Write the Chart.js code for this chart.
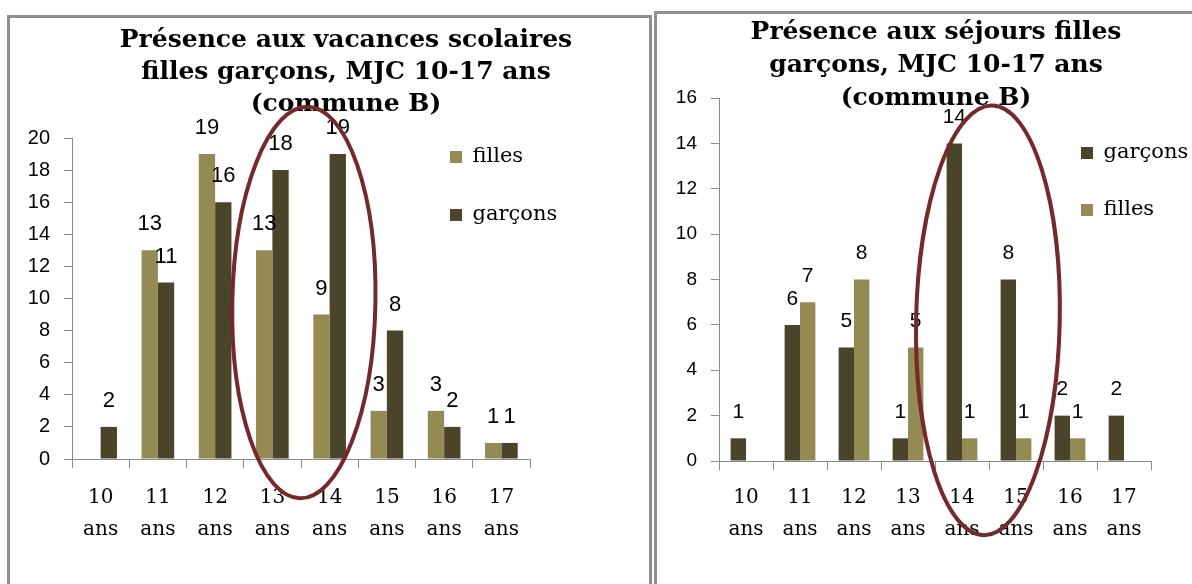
<!DOCTYPE html>
<html lang="fr">
<head>
<meta charset="utf-8">
<script src="https://cdn.jsdelivr.net/npm/chart.js@4.4.1/dist/chart.umd.min.js"></script>
<style>
  body { margin: 0; background: #fff; overflow: hidden; width: 1192px; height: 584px; position: relative; }
  .box { position: absolute; border: 3px solid #8f8f8f; background: #fff; }
  #boxA { left: 7px; top: 15px; width: 639px; height: 600px; }
  #boxB { left: 654px; top: 11px; width: 560px; height: 600px; }
  canvas { position: absolute; left: 0; top: 0; }
</style>
</head>
<body>
<div class="box" id="boxA"><canvas id="vacances" width="639" height="566"></canvas></div>
<div class="box" id="boxB"><canvas id="sejours" width="535" height="570"></canvas></div>
<script>
// ages on the x axis, two lines each
const ages = [['10', 'ans'], ['11', 'ans'], ['12', 'ans'], ['13', 'ans'], ['14', 'ans'], ['15', 'ans'], ['16', 'ans'], ['17', 'ans']]

// vacances scolaires
const vacFilles = [null, 13, 19, 13, 9, 3, 3, 1]
const vacGarcons = [2, 11, 16, 18, 19, 8, 2, 1]
const vacMax = 20

// séjours
const sejGarcons = [1, 6, 5, 1, 14, 8, 2, 2]
const sejFilles = [null, 7, 8, 5, 1, 1, 1, null]
const sejMax = 16

const FILLES = '#948A54'
const GARCONS = '#4A452A'
const AXIS = '#8a8a8a'

Chart.defaults.font.family = '"Liberation Sans", Arial, sans-serif'
Chart.defaults.color = '#000'

// numbers above the bars
const valueLabels = {
  id: 'valueLabels',
  afterDatasetsDraw (chart, args, opts) {
    const ctx = chart.ctx
    ctx.save()
    ctx.font = opts.size + 'px "Liberation Sans", Arial, sans-serif'
    ctx.fillStyle = '#000'
    ctx.textAlign = 'center'
    ctx.textBaseline = 'middle'
    chart.data.datasets.forEach((ds, i) => {
      chart.getDatasetMeta(i).data.forEach((bar, j) => {
        if (ds.data[j] == null) return
        ctx.fillText(ds.data[j], bar.x, bar.y - opts.lift)
      })
    })
    ctx.restore()
  }
}

// the hand drawn red ring, given in scale units
const ring = {
  id: 'ring',
  afterDatasetsDraw (chart, args, o) {
    const x = chart.scales.x
    const y = chart.scales.y
    const step = x.getPixelForValue(1) - x.getPixelForValue(0)
    const cx = x.getPixelForValue(0) + o.cx * step
    const cy = y.getPixelForValue(o.cy)
    const ry = Math.abs(y.getPixelForValue(0) - y.getPixelForValue(o.ry))
    const ctx = chart.ctx
    ctx.save()
    ctx.strokeStyle = '#742a2a'
    ctx.lineWidth = 4
    ctx.beginPath()
    ctx.ellipse(cx, cy, o.rx * step, ry, o.rot, 0, Math.PI * 2)
    ctx.stroke()
    ctx.restore()
  }
}

// excel lets the title and legend float; move them after layout
const nudge = {
  id: 'nudge',
  afterLayout (chart, args, o) {
    const t = chart.titleBlock
    t.left += o.titleDx
    t.right += o.titleDx
    const lg = chart.legend
    const a = chart.chartArea
    const pad = o.pad
    lg.left = a.right - o.legendRight - pad
    lg.right = lg.left + lg.width
    lg.top = a.top + o.legendTop - o.fontSize / 2 - pad
    lg.bottom = lg.top + lg.height
  }
}

function barChart (id, cfg) {
  return new Chart(document.getElementById(id), {
    type: 'bar',
    data: {
      labels: ages,
      datasets: cfg.datasets.map(d => ({
        label: d.label,
        data: d.data,
        backgroundColor: d.color,
        borderWidth: 0,
        categoryPercentage: 0.57,
        barPercentage: 1
      }))
    },
    plugins: [valueLabels, ring, nudge],
    options: {
      responsive: false,
      animation: false,
      layout: { padding: { left: 0, right: cfg.padRight, top: 0, bottom: 0 } },
      scales: {
        x: {
          grid: { offset: true, drawOnChartArea: false, drawTicks: true, tickLength: 9, color: AXIS },
          border: { color: AXIS },
          ticks: {
            font: { family: '"DejaVu Serif", serif', size: 20, lineHeight: 1.6 },
            padding: cfg.xPad,
            maxRotation: 0,
            autoSkip: false
          },
          afterFit: s => { s.height = cfg.xHeight }
        },
        y: {
          min: 0,
          max: cfg.max,
          grid: { drawOnChartArea: false, drawTicks: true, tickLength: 8, color: AXIS },
          border: { color: AXIS },
          ticks: { stepSize: 2, font: { size: cfg.tickSize }, padding: 14 },
          afterFit: s => { s.width = 62 }
        }
      },
      plugins: {
        title: {
          display: true,
          text: cfg.title,
          color: '#000',
          font: { family: '"DejaVu Serif", serif', size: 25, weight: 'bold', lineHeight: cfg.titleLine },
          padding: cfg.titlePad
        },
        legend: {
          position: 'chartArea',
          fullSize: false,
          align: 'start',
          labels: {
            boxWidth: 12,
            boxHeight: 12,
            padding: cfg.legendPad,
            color: '#000',
            font: { family: '"DejaVu Serif", serif', size: 21 }
          }
        },
        tooltip: { enabled: false },
        valueLabels: { size: cfg.labelSize, lift: 26 },
        ring: cfg.ring,
        nudge: {
          titleDx: cfg.titleDx,
          pad: cfg.legendPad,
          fontSize: 21,
          legendRight: cfg.legendRight,
          legendTop: cfg.legendTop
        }
      }
    }
  })
}

barChart('vacances', {
  title: ['Présence aux vacances scolaires', 'filles garçons, MJC 10-17 ans', '(commune B)'],
  datasets: [
    { label: 'filles', data: vacFilles, color: FILLES },
    { label: 'garçons', data: vacGarcons, color: GARCONS }
  ],
  max: vacMax,
  padRight: 119,
  xHeight: 125,
  xPad: 14,
  tickSize: 20,
  labelSize: 22,
  titleLine: 1.28,
  titlePad: { top: 6, bottom: 18 },
  titleDx: 76,
  legendPad: 37,
  legendRight: 80,
  legendTop: 19,
  ring: { cx: 3.55, cy: 9.75, rx: 1.25, ry: 12.2, rot: 0.02 }
})

barChart('sejours', {
  title: ['Présence aux séjours filles', 'garçons, MJC 10-17 ans', '(commune B)'],
  datasets: [
    { label: 'garçons', data: sejGarcons, color: GARCONS },
    { label: 'filles', data: sejFilles, color: FILLES }
  ],
  max: sejMax,
  padRight: 41,
  xHeight: 123,
  xPad: 12,
  tickSize: 19,
  labelSize: 21,
  titleLine: 1.32,
  titlePad: { top: 2, bottom: -17 },
  titleDx: 32,
  legendPad: 36,
  legendRight: 70,
  legendTop: 55,
  ring: { cx: 4.48, cy: 6.2, rx: 1.33, ry: 9.47, rot: 0.02 }
})
</script>
</body>
</html>
